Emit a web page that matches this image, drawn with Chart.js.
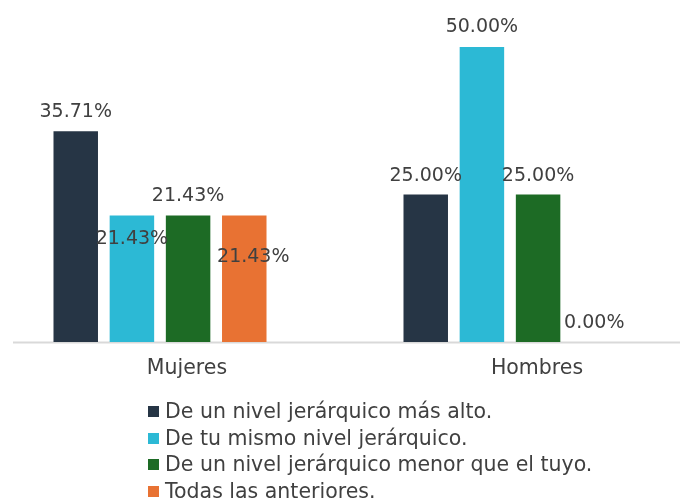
<!DOCTYPE html>
<html lang="es">
<head>
<meta charset="utf-8">
<title>Nivel jerárquico</title>
<script src="https://cdn.jsdelivr.net/npm/chart.js@4/dist/chart.umd.min.js"></script>
<style>
    html, body { margin: 0; padding: 0; background: #fff; }
    .frame {
        position: relative;
        width: 683px;
        height: 502px;
        overflow: hidden;
        font-family: 'DejaVu Sans', sans-serif;
    }
    .plot {
        position: absolute;
        left: -28px;
        top: 0;
    }
    .legend {
        position: absolute;
        left: 148px;
        top: 398px;
        margin: 0;
        padding: 0;
        list-style: none;
        color: #404040;
        font-size: 20.5px;
    }
    .legend li {
        height: 26.7px;
        line-height: 26.7px;
        white-space: nowrap;
    }
    .legend .swatch {
        display: inline-block;
        width: 11px;
        height: 11px;
        margin-right: 6px;
        vertical-align: 1px;
    }
</style>
</head>
<body>
<div class="frame">
    <div class="plot"><canvas id="barChart" width="740" height="502"></canvas></div>
    <ul class="legend" id="legend"></ul>
</div>

<script>
// Categories and series (share of answers, %)
const categories = ['Mujeres', 'Hombres'];
const seriesNames = [
    'De un nivel jerárquico más alto.',
    'De tu mismo nivel jerárquico.',
    'De un nivel jerárquico menor que el tuyo.',
    'Todas las anteriores.'
];
const masAlto = [35.71, 25.00];
const mismoNivel = [21.43, 50.00];
const menorNivel = [21.43, 25.00];
const todas = [21.43, 0.00];

const seriesColors = ['#263545', '#2cb9d5', '#1d6b25', '#e87233'];

// Where each value label sits, relative to the top centre of its bar [dx, dy]
const labelShift = [
    [[0, -21], [0, -21]],
    [[0, 21], [0, -22]],
    [[0, -22], [0, -21]],
    [[9, 39], [0, -21]]
];

const TEXT_COLOR = '#404040';
const FONT = "'DejaVu Sans', sans-serif";

// Value labels drawn on top of the bars
const valueLabels = {
    id: 'valueLabels',
    afterDatasetsDraw(chart) {
        const ctx = chart.ctx;
        ctx.save();
        ctx.font = '19px ' + FONT;
        ctx.fillStyle = TEXT_COLOR;
        ctx.textAlign = 'center';
        ctx.textBaseline = 'alphabetic';
        chart.data.datasets.forEach((ds, i) => {
            const meta = chart.getDatasetMeta(i);
            meta.data.forEach((bar, j) => {
                const shift = labelShift[i][j];
                const text = ds.data[j].toFixed(2) + '%';
                ctx.fillText(text, bar.x + shift[0], bar.y + shift[1] + 7);
            });
        });
        ctx.restore();
    }
};

// Light baseline under the bars
const baseLine = {
    id: 'baseLine',
    beforeDatasetsDraw(chart) {
        const ctx = chart.ctx;
        const y = chart.scales.y.getPixelForValue(0) + 0.5;
        ctx.save();
        ctx.strokeStyle = '#d9d9d9';
        ctx.lineWidth = 2;
        ctx.beginPath();
        ctx.moveTo(41, y);
        ctx.lineTo(708, y);
        ctx.stroke();
        ctx.restore();
    }
};

const chart = new Chart(document.getElementById('barChart'), {
    type: 'bar',
    data: {
        labels: categories,
        datasets: [masAlto, mismoNivel, menorNivel, todas].map((values, i) => ({
            label: seriesNames[i],
            data: values,
            backgroundColor: seriesColors[i],
            borderWidth: 0,
            categoryPercentage: 0.642,
            barPercentage: 0.792
        }))
    },
    options: {
        responsive: false,
        animation: false,
        layout: {
            padding: { left: 13, right: 27, top: 47, bottom: 120 }
        },
        plugins: {
            legend: { display: false },
            tooltip: { enabled: false }
        },
        scales: {
            x: {
                grid: { display: false, drawTicks: false },
                border: { display: false },
                ticks: {
                    color: TEXT_COLOR,
                    font: { family: FONT, size: 20.5 },
                    padding: 14,
                    labelOffset: 27
                },
                afterFit(scale) {
                    scale.height = 40;
                }
            },
            y: {
                display: false,
                min: 0,
                max: 50
            }
        }
    },
    plugins: [baseLine, valueLabels]
});

// Legend list built from the datasets
const legendEl = document.getElementById('legend');
chart.data.datasets.forEach(ds => {
    const li = document.createElement('li');
    const sw = document.createElement('span');
    sw.className = 'swatch';
    sw.style.background = ds.backgroundColor;
    li.appendChild(sw);
    li.appendChild(document.createTextNode(ds.label));
    legendEl.appendChild(li);
});
</script>
</body>
</html>
